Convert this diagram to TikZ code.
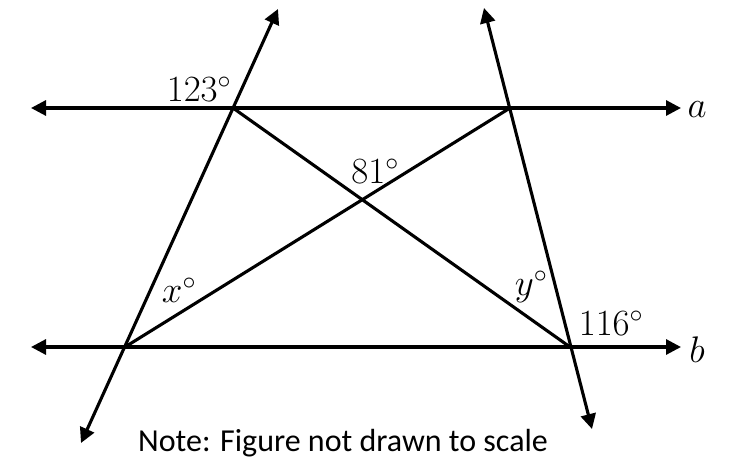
\RequirePackage{fix-cm}
\documentclass[tikz,border=0pt]{standalone}
\usepackage{fontspec}
\newfontfamily\notefont{Carlito}
\usetikzlibrary{arrows.meta}
\begin{document}
\begin{tikzpicture}[x=1pt,y=-1pt,
  ln/.style={line width=3.1pt},
  arr/.style={ln,{Triangle[length=15pt,width=15pt]}-{Triangle[length=15pt,width=15pt]}},
  lbl/.style={inner sep=0pt,font=\fontsize{37}{44}\selectfont},
  notelbl/.style={inner sep=0pt,font=\notefont\fontsize{32}{38}\selectfont}]
\useasboundingbox (0,0) rectangle (735,465);
% intersection points
\coordinate (A1) at (233,108);
\coordinate (A2) at (510,108);
\coordinate (B1) at (125,347);
\coordinate (B2) at (570,347);
% line ends
\coordinate (aL) at (31,108);
\coordinate (aR) at (681,108);
\coordinate (bL) at (31,347);
\coordinate (bR) at (681,347);
\coordinate (tLtop) at (278,9);
\coordinate (tLbot) at (81,443);
\coordinate (tRtop) at (484,8);
\coordinate (tRbot) at (592,429);
\draw[arr] (aL) -- (aR);
\draw[arr] (bL) -- (bR);
\draw[arr] (tLbot) -- (tLtop);
\draw[arr] (tRtop) -- (tRbot);
\draw[ln] (A1) -- (B2);
\draw[ln] (A2) -- (B1);
% labels
\node[lbl] (l123) at (199,89) {$123^\circ$};
\node[lbl] (l81) at (375,171) {$81^\circ$};
\node[lbl] (lx) at (179,290) {$x^\circ$};
\node[lbl] (ly) at (531,287) {$y^\circ$};
\node[lbl] (l116) at (611,323) {$116^\circ$};
\node[lbl] (la) at (697,110) {$a$};
\node[lbl] (lb) at (697,350) {$b$};
\node[notelbl] (note) at (343,443) {Note: Figure not drawn to scale};
\end{tikzpicture}
\end{document}
